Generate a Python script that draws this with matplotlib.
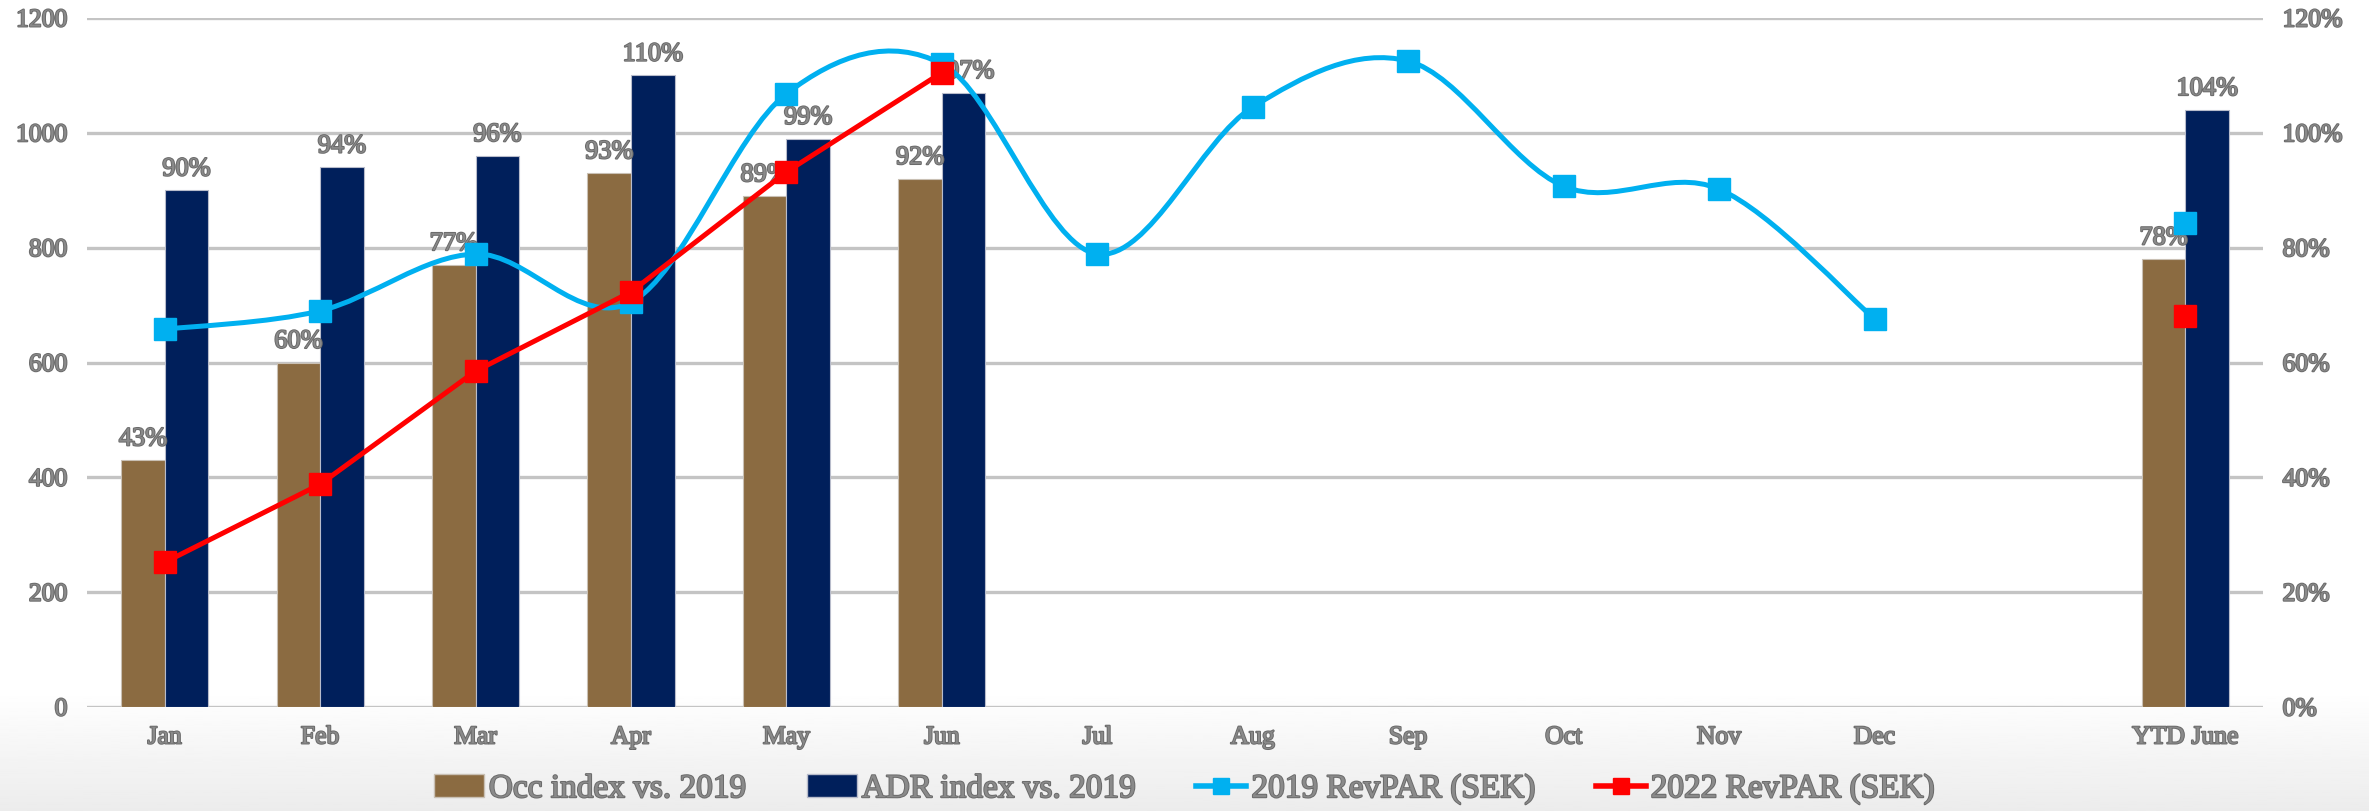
import numpy as np
import matplotlib.pyplot as plt
import matplotlib.patheffects as pe
from matplotlib.path import Path
from matplotlib.patches import PathPatch, Patch
from matplotlib.lines import Line2D

nan = np.nan

# Kategorier (tom plats mellan Dec och YTD)
months = ["Jan", "Feb", "Mar", "Apr", "May", "Jun", "Jul", "Aug", "Sep",
          "Oct", "Nov", "Dec", "", "YTD June"]

# Index mot 2019 (höger axel)
occ_index = [0.43, 0.60, 0.77, 0.93, 0.89, 0.92, nan, nan, nan, nan, nan, nan, nan, 0.78]
adr_index = [0.90, 0.94, 0.96, 1.10, 0.99, 1.07, nan, nan, nan, nan, nan, nan, nan, 1.04]

# RevPAR i SEK (vänster axel)
revpar_2019 = [658, 690, 789, 705, 1068, 1120, 789, 1045, 1125, 907, 902, 676, nan, 843]
revpar_2022 = [252, 388, 585, 723, 932, 1105, nan, nan, nan, nan, nan, nan, nan, 681]

c_occ = "#8B6B41"
c_adr = "#001F5B"
c_19 = "#00B0F0"
c_22 = "#FF0000"
txt = "#8A8A8A"
fx = [pe.withStroke(linewidth=1.4, foreground="#6A6A6A")]

plt.rcParams["font.family"] = "Liberation Serif"


def smooth_path(xs, ys):
    """Catmull-Rom-kurva som Bezier-segment, bruten vid NaN."""
    verts, codes = [], []
    xs = np.asarray(xs, float)
    ys = np.asarray(ys, float)
    ok = ~np.isnan(ys)
    runs, cur = [], []
    for i in range(len(xs)):
        if ok[i]:
            cur.append(i)
        elif cur:
            runs.append(cur)
            cur = []
    if cur:
        runs.append(cur)
    for run in runs:
        if len(run) < 2:
            continue
        p = np.column_stack([xs[run], ys[run]])
        verts.append(p[0])
        codes.append(Path.MOVETO)
        for k in range(len(p) - 1):
            p0 = p[k - 1] if k > 0 else p[k]
            p1, p2 = p[k], p[k + 1]
            p3 = p[k + 2] if k + 2 < len(p) else p[k + 1]
            verts += [p1 + (p2 - p0) / 6, p2 - (p3 - p1) / 6, p2]
            codes += [Path.CURVE4] * 3
    return Path(verts, codes)


fig = plt.figure(figsize=(23.69, 8.12), dpi=100)

# grå toning i nederkant
bg = fig.add_axes([0, 0, 1, 1], zorder=-10)
bg.axis("off")
rows = np.ones(400)
start = int(400 * 0.85)
rows[start:] = np.linspace(1.0, 0.925, 400 - start)
bg.imshow(rows[:, None], cmap="gray", vmin=0, vmax=1, aspect="auto",
          extent=[0, 1, 0, 1])

ax = fig.add_axes([0.0367, 0.128, 0.9186, 0.8486])
ax.patch.set_alpha(0)
x = np.arange(len(months))
w = 0.28

ax.bar(x - w / 2, occ_index, w, color=c_occ, edgecolor="#c9c0b4", linewidth=0.8, zorder=3)
ax.bar(x + w / 2, adr_index, w, color=c_adr, edgecolor="#b8bccb", linewidth=0.8, zorder=3)

for xi, v in zip(x, occ_index):
    if not np.isnan(v):
        ax.annotate(f"{v:.0%}", (xi - w / 2, v), xytext=(0, 7), textcoords="offset points",
                    ha="center", va="bottom", fontsize=19, color=txt, path_effects=fx,
                    zorder=5)
for xi, v in zip(x, adr_index):
    if not np.isnan(v):
        ax.annotate(f"{v:.0%}", (xi + w / 2, v), xytext=(0, 7), textcoords="offset points",
                    ha="center", va="bottom", fontsize=19, color=txt, path_effects=fx,
                    zorder=5)

ax.set_ylim(0, 1.2)
ax.set_xlim(-0.5, len(months) - 0.5)
ax.set_yticks(np.arange(0, 1.21, 0.2))
ax.set_yticklabels([f"{t:.0%}" for t in np.arange(0, 1.21, 0.2)])
ax.set_xticks(x)
ax.set_xticklabels(months)
ax.grid(axis="y", color="#c4c4c4", linewidth=2.4, zorder=0)
ax.set_axisbelow(True)
for s in ax.spines.values():
    s.set_visible(False)

# RevPAR-linjer på vänster axel
ax2 = ax.twinx()
ax2.set_ylim(0, 1200)
ax2.set_yticks(np.arange(0, 1201, 200))
ax2.yaxis.tick_left()
ax.yaxis.tick_right()
for s in ax2.spines.values():
    s.set_visible(False)

for a in (ax, ax2):
    a.tick_params(axis="both", length=0, labelsize=18.5, labelcolor=txt, pad=14)
    for lab in a.get_xticklabels() + a.get_yticklabels():
        lab.set_path_effects(fx)

ax2.add_patch(PathPatch(smooth_path(x, revpar_2019), facecolor="none",
                        edgecolor=c_19, linewidth=3.6, zorder=4))
ax2.plot(x, revpar_2019, linestyle="none", marker="s", markersize=16, color=c_19, zorder=5)
ax2.plot(x, revpar_2022, color=c_22, linewidth=3.6, marker="s", markersize=16, zorder=6)

handles = [
    Patch(facecolor=c_occ, edgecolor="#c9c0b4"),
    Patch(facecolor=c_adr, edgecolor="#b8bccb"),
    Line2D([], [], color=c_19, linewidth=4, marker="s", markersize=12),
    Line2D([], [], color=c_22, linewidth=4, marker="s", markersize=12),
]
labels = ["Occ index vs. 2019", "ADR index vs. 2019", "2019 RevPAR (SEK)", "2022 RevPAR (SEK)"]
leg = fig.legend(handles, labels, loc="center", bbox_to_anchor=(0.5, 0.027), ncol=4,
                 frameon=False, fontsize=24, handlelength=1.5, handletextpad=0.15,
                 columnspacing=1.8)
for t in leg.get_texts():
    t.set_color(txt)
    t.set_path_effects(fx)

fig.savefig("out.png", dpi=100)
